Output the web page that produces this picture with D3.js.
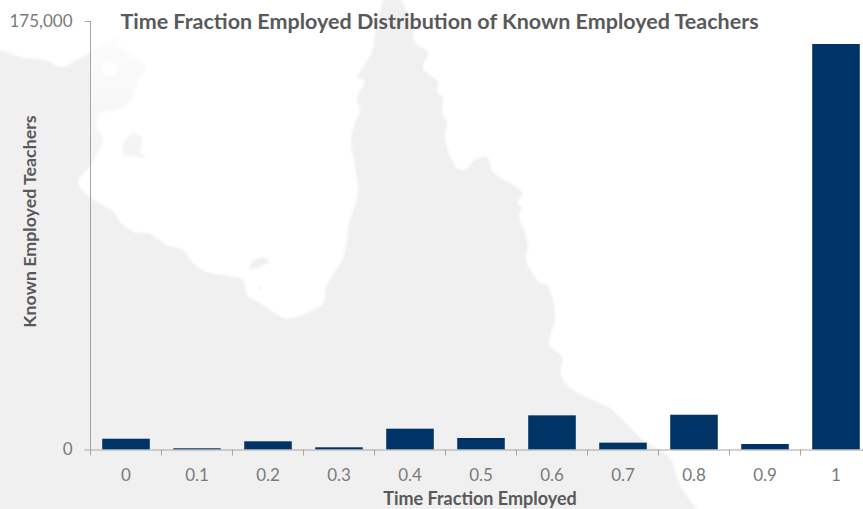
<!DOCTYPE html>
<html><head><meta charset="utf-8">
<script src="https://cdn.jsdelivr.net/npm/d3@7"></script>
<style>html,body{margin:0;padding:0;background:#fff;overflow:hidden}svg{display:block;font-family:Lato,sans-serif}</style>
</head><body><svg id="c" width="863" height="509"></svg>
<script>
const categories = ["0","0.1","0.2","0.3","0.4","0.5","0.6","0.7","0.8","0.9","1"];
const values = [4400,500,3350,900,8500,4700,13950,2800,14200,2250,165600];
const yTicks = [0,175000];
const titleText = "Time Fraction Employed Distribution of Known Employed Teachers";
const xLabel = "Time Fraction Employed";
const yLabel = "Known Employed Teachers";
// decorative background map outline (not data)
const land = [[-10,49],[0,50],[20,57],[45,60],[62,67],[77,60],[90,53],[103,45],[120,36],[118,44],[130,53],[145,68],[138,80],[132,98],[117,110],[100,113],[97,130],[103,137],[92,163],[78,183],[90,197],[115,213],[120,222],[137,233],[148,233],[167,245],[183,250],[193,263],[207,272],[223,275],[243,280],[247,295],[260,303],[285,318],[307,313],[323,303],[327,285],[342,260],[347,240],[348,227],[358,193],[355,167],[351,140],[355,123],[360,110],[357,98],[365,80],[358,78],[372,52],[375,33],[382,5],[388,-6],[397,-6],[402,3],[412,23],[415,43],[428,52],[423,68],[438,82],[437,92],[443,97],[442,113],[447,123],[445,137],[452,160],[458,169],[468,168],[473,161],[487,157],[493,172],[522,192],[518,203],[522,208],[519,215],[525,233],[528,247],[526,260],[540,283],[547,285],[555,317],[550,337],[549,345],[562,357],[561,375],[573,390],[593,400],[610,408],[623,420],[643,440],[660,450],[670,458],[680,485],[697,520],[-10,520]];
const holes = [[[103,64],[112,62],[117,70],[112,76],[104,75]]];
const isles = [[[132,133],[143,137],[140,153],[147,158],[123,155],[123,143]],[[248,270],[253,260],[265,257],[270,262],[257,268]],[[258,287],[262,286],[261,291]]];

const W=863,H=509,m={l:90.5,t:21,b:449.5};
const svg=d3.select("#c");
const defs=svg.append("defs");
defs.append("filter").attr("id","b").append("feGaussianBlur").attr("stdDeviation",1);
const fade=defs.append("linearGradient").attr("id","fade").attr("x1",0).attr("x2",0).attr("y1",0).attr("y2",1);
fade.append("stop").attr("offset",0).attr("stop-color","#fff").attr("stop-opacity",0.85);
fade.append("stop").attr("offset",1).attr("stop-color","#fff").attr("stop-opacity",0.2);
const line=d3.line().curve(d3.curveCatmullRom.alpha(0.5));
const poly=d3.line();
const g=svg.append("g").attr("filter","url(#b)");
g.append("path").attr("d",line(land)+"Z"+holes.map(h=>poly(h)+"Z").join("")).attr("fill","#f0f0f0").attr("fill-rule","evenodd");
isles.forEach(i=>g.append("path").attr("d",poly(i)+"Z").attr("fill","#f0f0f0"));
svg.append("rect").attr("x",91).attr("y",30).attr("width",60).attr("height",135).attr("fill","url(#fade)");

const step=71;
const x=d3.scaleBand().domain(categories).range([m.l,m.l+step*categories.length]).paddingInner(0.33).paddingOuter(0.165);
const y=d3.scaleLinear().domain([0,175000]).range([m.b,m.t]);
const axisCol="#a6a6a6",tickCol="#7a7a7a";

svg.append("g").selectAll("rect").data(values).join("rect")
 .attr("x",(d,i)=>x(categories[i])).attr("width",x.bandwidth())
 .attr("y",d=>y(d)).attr("height",d=>y(0)-y(d)).attr("fill","#003366");

const ya=svg.append("g").attr("transform",`translate(${m.l},0)`)
 .call(d3.axisLeft(y).tickValues(yTicks).tickSize(6).tickPadding(12).tickFormat(d3.format(",")));
ya.selectAll(".domain").attr("d",`M0,${m.t}V${m.b}`).attr("stroke",axisCol);
ya.selectAll("line").attr("stroke",axisCol);
ya.selectAll("text").attr("fill",tickCol).attr("font-size",17).style("font-family","Lato");

const xa=svg.append("g").attr("transform",`translate(0,${m.b})`)
 .call(d3.axisBottom(x).tickSize(0).tickPadding(19));
xa.selectAll(".domain").attr("stroke",axisCol);
xa.selectAll("text").attr("fill",tickCol).attr("font-size",17).style("font-family","Lato");
xa.append("g").selectAll("line").data(d3.range(categories.length+1)).join("line")
 .attr("x1",d=>m.l+d*step).attr("x2",d=>m.l+d*step).attr("y1",0).attr("y2",6).attr("stroke",axisCol);

svg.append("text").attr("x",439.5).attr("y",29).attr("text-anchor","middle").attr("font-weight",700).attr("font-size",21.5).attr("fill","#595959").text(titleText);
svg.append("text").attr("x",480).attr("y",504.5).attr("text-anchor","middle").attr("font-weight",700).attr("font-size",18).attr("fill","#595959").text(xLabel);
svg.append("text").attr("transform","translate(36,221.5) rotate(-90)").attr("text-anchor","middle").attr("font-weight",700).attr("font-size",17.8).attr("fill","#595959").text(yLabel);
</script></body></html>
